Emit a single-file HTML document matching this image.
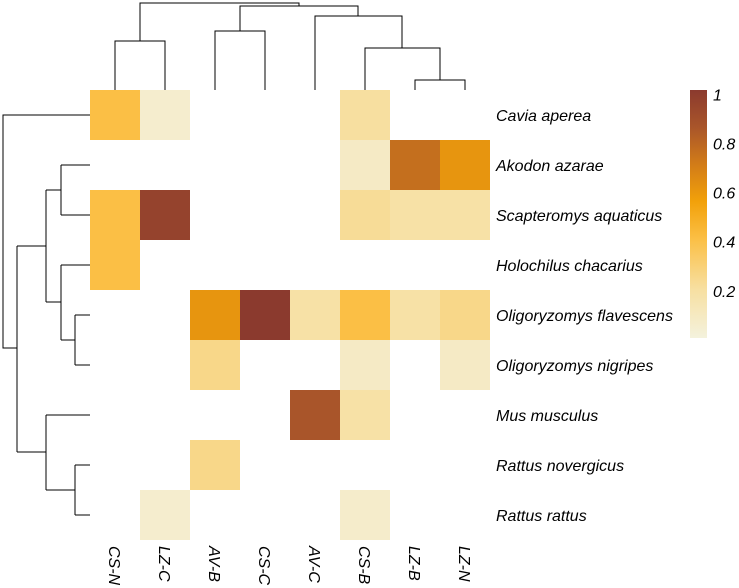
<!DOCTYPE html>
<html><head><meta charset="utf-8"><style>
html,body{margin:0;padding:0;background:#fff}
svg{display:block;font-family:"Liberation Sans",sans-serif}
</style></head><body>
<svg id="chart" width="739" height="588" viewBox="0 0 739 588">
<defs>
<linearGradient id="cbar" x1="0" y1="1" x2="0" y2="0">
<stop offset="0" stop-color="#f4f2dd"/><stop offset="0.2" stop-color="#f7dfa0"/><stop offset="0.4" stop-color="#fbbf45"/><stop offset="0.55" stop-color="#f2a10a"/><stop offset="0.7" stop-color="#d27c18"/><stop offset="0.85" stop-color="#a9552a"/><stop offset="1" stop-color="#8b3a2e"/>
</linearGradient>
</defs>
<g id="cells"></g>
<g id="dendro" stroke="#000" stroke-width="1" fill="none">
<path d="M115,90V41H165V90 M140,41V3H299V6 M215,90V31H265V90 M240,31V6H358V16 M315,90V16H402V48 M365,90V48H440V80 M415,90V80H465V90"/>
<path d="M90,115H3V348H17 M17,246V452 M17,246H46 M46,190V302 M46,190H61 M61,165V215 M61,165H90 M61,215H90 M46,302H61 M61,265V340 M61,265H90 M61,340H75 M75,315V365 M75,315H90 M75,365H90 M17,452H46 M46,415V490 M46,415H90 M46,490H75 M75,465V515 M75,465H90 M75,515H90"/>
</g>
<g id="rowlabels" font-style="italic" font-size="16" fill="#000"></g>
<g id="collabels" font-style="italic" font-size="16" fill="#000"></g>
<rect x="690" y="90" width="17" height="248" fill="url(#cbar)"/>
<g id="cbticks" font-style="italic" font-size="16" fill="#000"></g>
</svg>
<script>
const columns=["CS-N","LZ-C","AV-B","CS-C","AV-C","CS-B","LZ-B","LZ-N"];
const rows=["Cavia aperea","Akodon azarae","Scapteromys aquaticus","Holochilus chacarius","Oligoryzomys flavescens","Oligoryzomys nigripes","Mus musculus","Rattus novergicus","Rattus rattus"];
const values=[
[0.4,0.05,null,null,null,0.2,null,null],
[null,null,null,null,null,0.08,0.75,0.6],
[0.4,0.95,null,null,null,0.22,0.18,0.18],
[0.4,null,null,null,null,null,null,null],
[null,null,0.6,1,0.18,0.4,0.18,0.25],
[null,null,0.25,null,null,0.08,null,0.08],
[null,null,null,null,0.85,0.18,null,null],
[null,null,0.25,null,null,null,null,null],
[null,0.05,null,null,null,0.06,null,null]
];
const cbTicks=[0.2,0.4,0.6,0.8,1];
const cbTickLabels=["0.2","0.4","0.6","0.8","1"];
const NS="http://www.w3.org/2000/svg";
const x=c=>90+c*50, y=r=>90+r*50, cb=v=>340.9-v*245.5;
const stops=[[0,[244,242,221]],[0.2,[247,223,160]],[0.4,[251,191,69]],[0.55,[242,161,10]],[0.7,[210,124,24]],[0.85,[169,85,42]],[1,[139,58,46]]];
function col(v){for(let i=1;i<stops.length;i++){if(v<=stops[i][0]){const a=stops[i-1],b=stops[i],t=(v-a[0])/(b[0]-a[0]);return "rgb("+a[1].map((c,k)=>Math.round(c+(b[1][k]-c)*t)).join(",")+")";}}return "rgb(139,58,46)";}
const cells=document.getElementById("cells");
values.forEach((row,r)=>row.forEach((v,c)=>{if(v===null)return;
const el=document.createElementNS(NS,"rect");
el.setAttribute("x",x(c));el.setAttribute("y",y(r));el.setAttribute("width",50);el.setAttribute("height",50);el.setAttribute("fill",col(v));


cells.appendChild(el);}));
const rl=document.getElementById("rowlabels");
rows.forEach((n,r)=>{const t=document.createElementNS(NS,"text");t.setAttribute("x",496);t.setAttribute("y",y(r)+31);t.textContent=n;


rl.appendChild(t);});
const cl=document.getElementById("collabels");
columns.forEach((n,c)=>{const t=document.createElementNS(NS,"text");const cx=x(c)+25-6;t.setAttribute("transform","translate("+cx+",546) rotate(90)");t.textContent=n;


cl.appendChild(t);});
const cg=document.getElementById("cbticks");
cbTicks.forEach((v,i)=>{const t=document.createElementNS(NS,"text");t.setAttribute("x",713);t.setAttribute("y",cb(v)+5);t.textContent=cbTickLabels[i];


cg.appendChild(t);});
</script>
</body></html>
